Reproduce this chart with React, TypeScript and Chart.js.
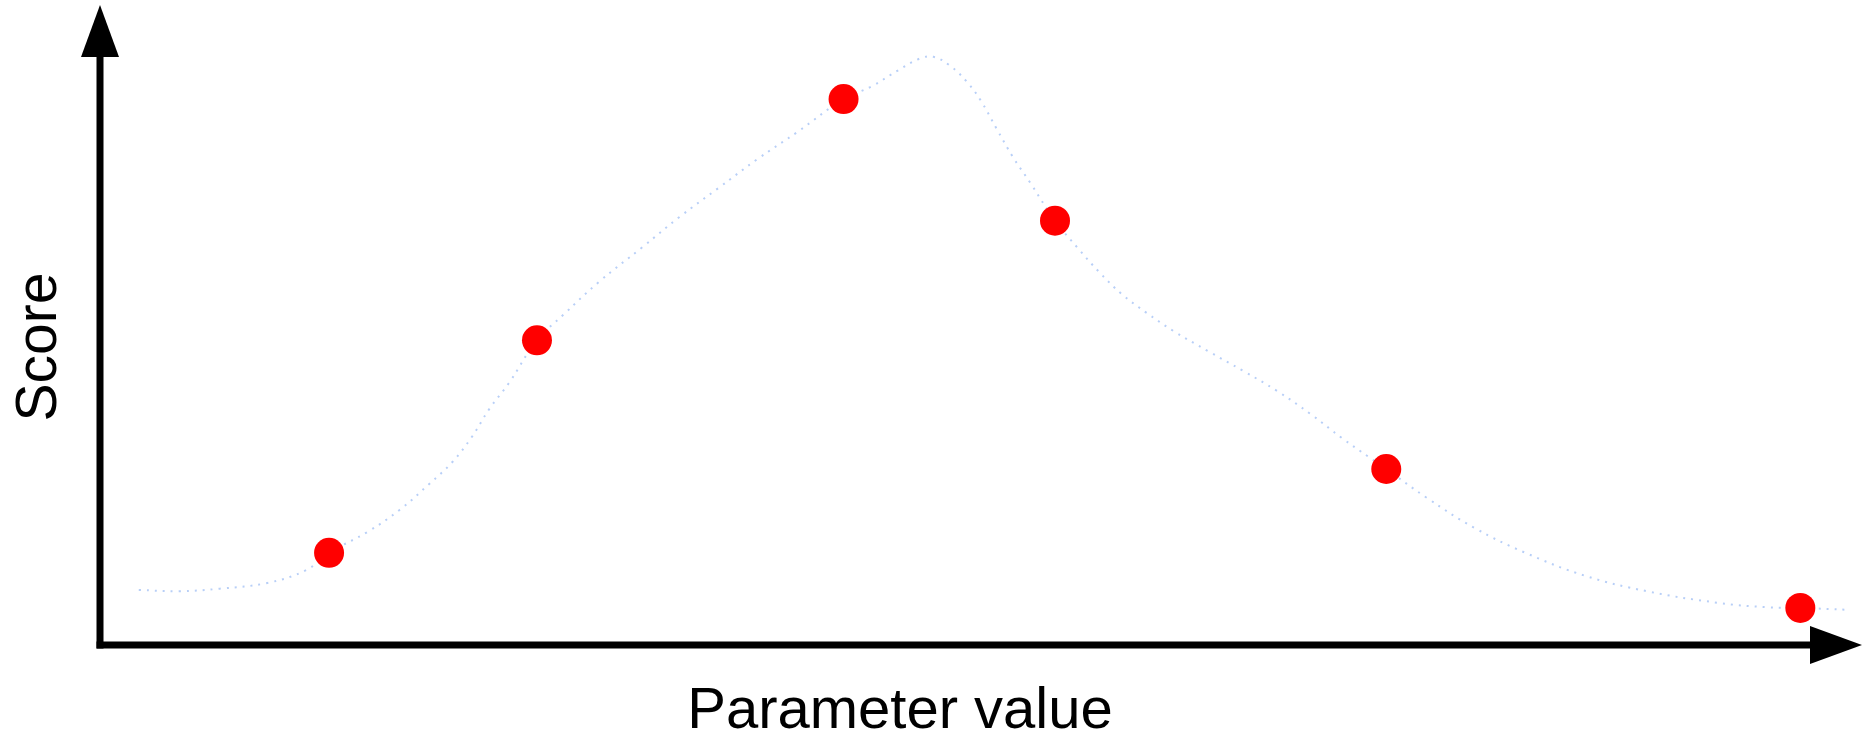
import React, { useEffect, useRef } from "react";
import { Chart, registerables } from "chart.js";

Chart.register(...registerables);

// Axis titles
const xTitle = "Parameter value";
const yTitle = "Score";

// Value ranges (arbitrary units, no ticks shown)
const xRange = [0, 100];
const yRange = [0, 100];

// Observed samples (red dots)
const obsX = [13.0, 24.8, 42.2, 54.2, 73.0, 96.5];
const obsY = [14.4, 47.6, 85.3, 66.3, 27.5, 5.8];

// Underlying score curve (dotted)
const curveX = [
  2.2, 4.5, 6.8, 9.5, 11.7, 13.0, 15.2, 17.0, 18.7, 20.0, 21.1, 22.1, 23.2, 24.8,
  26.3, 28.3, 30.8, 32.9, 35.1, 37.3, 39.6, 42.2, 43.8, 45.3, 46.5, 47.3, 48.2,
  49.2, 50.0, 50.9, 51.8, 52.8, 54.2, 55.5, 56.7, 58.0, 59.4, 60.9, 62.9, 64.9,
  66.8, 68.7, 70.5, 72.0, 73.0, 75.3, 78.0, 80.9, 84.3, 87.8, 91.8, 94.6, 96.5, 99.2,
];
const curveY = [
  8.6, 8.4, 8.8, 9.7, 11.7, 14.4, 17.7, 21.1, 25.2, 28.6, 32.5, 36.9, 40.9, 47.6,
  51.6, 56.7, 62.2, 66.9, 71.4, 75.9, 80.2, 85.3, 87.3, 89.8, 91.6, 91.9, 90.6,
  88.0, 85.0, 80.6, 76.3, 72.2, 66.3, 62.0, 58.3, 54.8, 51.9, 49.1, 45.9, 42.8,
  39.7, 36.1, 32.3, 29.4, 27.5, 23.0, 18.3, 14.4, 10.8, 8.4, 6.6, 5.9, 5.8, 5.5,
];

const FONT = "'Liberation Sans', Arial, Helvetica, sans-serif";

const arrowAxes = {
  id: "arrowAxes",
  beforeDatasetsDraw(chart: any) {
    const { ctx, chartArea } = chart;
    const { left, right, top, bottom } = chartArea;
    const lw = 7;
    const head = 52;
    const half = 19;
    ctx.save();
    ctx.fillStyle = "#000000";
    // y axis shaft
    ctx.fillRect(left - lw / 2, top + head - 1, lw, bottom - top - head + 1 + lw / 2);
    // y arrow head
    ctx.beginPath();
    ctx.moveTo(left, top);
    ctx.lineTo(left - half, top + head);
    ctx.lineTo(left + half, top + head);
    ctx.closePath();
    ctx.fill();
    // x axis shaft
    ctx.fillRect(left - lw / 2, bottom - lw / 2, right - head + 1 - (left - lw / 2), lw);
    // x arrow head
    ctx.beginPath();
    ctx.moveTo(right, bottom);
    ctx.lineTo(right - head, bottom - half);
    ctx.lineTo(right - head, bottom + half);
    ctx.closePath();
    ctx.fill();

    // titles
    ctx.textAlign = "center";
    ctx.textBaseline = "alphabetic";
    ctx.font = `58px ${FONT}`;
    ctx.fillText(xTitle, left + 800, bottom + 83);
    ctx.font = `57px ${FONT}`;
    ctx.translate(left - 44, top + 342);
    ctx.rotate(-Math.PI / 2);
    ctx.fillText(yTitle, 0, 0);
    ctx.restore();
  },
};

export default function App() {
  const canvasRef = useRef<HTMLCanvasElement | null>(null);

  useEffect(() => {
    if (!canvasRef.current) return;
    const chart = new Chart(canvasRef.current, {
      type: "scatter",
      data: {
        datasets: [
          {
            label: "Observations",
            data: obsX.map((x, i) => ({ x, y: obsY[i] })),
            backgroundColor: "#ff0000",
            borderWidth: 0,
            pointRadius: 15,
            pointHoverRadius: 15,
            showLine: false,
            order: 0,
          },
          {
            label: "Curve",
            data: curveX.map((x, i) => ({ x, y: curveY[i] })),
            showLine: true,
            borderColor: "#b8cff7",
            borderWidth: 2,
            borderDash: [2, 6],
            borderCapStyle: "butt",
            pointRadius: 0,
            pointHoverRadius: 0,
            tension: 0.4,
            fill: false,
            order: 1,
          },
        ],
      },
      options: {
        animation: false,
        responsive: false,
        devicePixelRatio: 1,
        events: [],
        layout: { autoPadding: false, padding: { left: 100, right: 6, top: 5, bottom: 90 } },
        plugins: { legend: { display: false }, tooltip: { enabled: false } },
        scales: {
          x: { type: "linear", display: false, min: xRange[0], max: xRange[1] },
          y: { type: "linear", display: false, min: yRange[0], max: yRange[1] },
        },
      },
      plugins: [arrowAxes],
    });
    return () => chart.destroy();
  }, []);

  return (
    <div style={{ position: "fixed", left: 0, top: 0, width: 1868, height: 735, background: "#ffffff" }}>
      <canvas ref={canvasRef} width={1868} height={735} style={{ display: "block" }} />
    </div>
  );
}
